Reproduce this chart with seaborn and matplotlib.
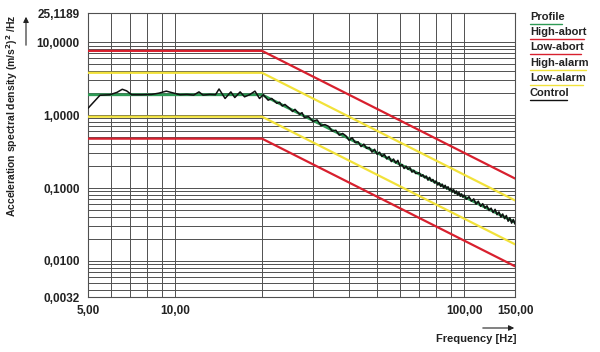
import numpy as np
import pandas as pd
import matplotlib
matplotlib.use('Agg')
import matplotlib.pyplot as plt
import seaborn as sns

# breakpoints of the reference profile and the limit lines
brk_freq = [5.0, 20.0, 150.0]
profile = [1.9, 1.9, 0.0338]
high_abort = [7.6, 7.6, 0.135]
low_abort = [0.475, 0.475, 0.00845]
high_alarm = [3.8, 3.8, 0.0676]
low_alarm = [0.95, 0.95, 0.0169]

ctrl_freq = [5.0, 5.5, 5.95, 6.3, 6.57, 6.8, 7.08, 7.67, 8.3, 8.8, 9.33, 9.8, 10.4, 11.0, 11.6,
             12.1, 12.5, 13.2, 13.8, 14.2, 14.9, 15.6, 16.1, 16.8, 17.4, 18.1, 18.9, 19.6, 20.2,
             21.0, 21.6, 22.5, 23, 23.5, 24, 25, 25.5, 26, 27, 27.5, 28, 29, 30, 31, 32, 33, 34,
             35, 36, 37, 38, 39, 40, 41, 42, 43, 44, 45, 46, 47, 48, 49, 50, 51, 52, 53, 54, 55,
             56, 57, 58, 59, 60, 61, 62, 63, 64, 65, 66, 67, 68, 70, 71, 72, 73, 74, 75, 76, 77,
             78, 79, 80, 81, 82, 83, 84, 85, 86, 87, 88, 89, 90, 91, 92, 93, 94, 95, 96, 97, 98,
             99, 100, 102, 104, 106, 108, 110, 112, 114, 116, 118, 120, 122, 124, 126, 128, 130,
             132, 134, 136, 138, 140, 142, 144, 146, 148, 150]
ctrl_psd = [1.24, 1.87, 1.9, 2.05, 2.26, 2.15, 1.9, 1.9, 1.92, 2.0, 2.13, 2.02, 1.9, 1.92, 1.88,
            2.08, 1.88, 1.92, 1.9, 2.28, 1.69, 2.08, 1.74, 2.08, 1.78, 1.9, 2.13, 1.69, 1.9,
            1.6, 1.69, 1.45, 1.50, 1.33, 1.40, 1.22, 1.12, 1.20, 1.02, 1.08, 0.93, 0.95, 0.82,
            0.86, 0.72, 0.74, 0.70, 0.60, 0.62, 0.53, 0.56, 0.52, 0.45, 0.49, 0.42, 0.43, 0.37,
            0.40, 0.35, 0.36, 0.31, 0.34, 0.29, 0.31, 0.27, 0.29, 0.25, 0.27, 0.23, 0.25, 0.22,
            0.24, 0.20, 0.21, 0.185, 0.20, 0.18, 0.19, 0.165, 0.175, 0.158, 0.162, 0.145, 0.152,
            0.138, 0.146, 0.128, 0.140, 0.124, 0.131, 0.117, 0.125, 0.110, 0.118, 0.105, 0.113,
            0.100, 0.109, 0.097, 0.104, 0.093, 0.099, 0.088, 0.095, 0.084, 0.091, 0.080, 0.087,
            0.077, 0.083, 0.075, 0.080, 0.070, 0.076, 0.066, 0.071, 0.060, 0.066, 0.056, 0.061,
            0.053, 0.057, 0.049, 0.053, 0.046, 0.051, 0.043, 0.047, 0.040, 0.044, 0.038, 0.042,
            0.035, 0.039, 0.033, 0.037, 0.032]

y_ticks = [0.0032, 0.01, 0.1, 1.0, 10.0, 25.1189]
y_labels = ['0,0032', '0,0100', '0,1000', '1,0000', '10,0000', '25,1189']
x_ticks = [5, 10, 100, 150]
x_labels = ['5,00', '10,00', '100,00', '150,00']

legend_names = ['Profile', 'High-abort', 'Low-abort', 'High-alarm', 'Low-alarm', 'Control']
GREEN, RED, YELLOW = '#2e9a55', '#d8202e', '#f2e23a'
legend_colors = [GREEN, RED, RED, YELLOW, YELLOW, '#111111']

sns.set_style('white')
plt.rcParams['font.family'] = ['Liberation Sans', 'DejaVu Sans']
plt.rcParams['font.weight'] = 'bold'

fig = plt.figure(figsize=(6, 3.52), dpi=100)
ax = fig.add_axes([88 / 600, 1 - 297 / 352, 427 / 600, 284 / 352])
ax.set_xscale('log')
ax.set_yscale('log')

# grid: decades plus 2..9 multiples
yminor = [m * 10.0 ** e for e in range(-3, 1) for m in range(2, 10)]
yminor = [v for v in yminor if 0.0032 < v < 10]
xminor = [6, 7, 8, 9, 20, 30, 40, 50, 60, 70, 80, 90]
for v in yminor + [0.01, 0.1, 1.0, 10.0]:
    ax.axhline(v, color='#505050', lw=0.7, zorder=1)
for v in xminor + [10, 100]:
    ax.axvline(v, color='#505050', lw=0.7, zorder=1)

lim = pd.DataFrame({'f': brk_freq, 'High-abort': high_abort, 'Low-abort': low_abort,
                    'High-alarm': high_alarm, 'Low-alarm': low_alarm})
for name, col in [('High-alarm', YELLOW), ('Low-alarm', YELLOW),
                  ('High-abort', RED), ('Low-abort', RED)]:
    sns.lineplot(x=lim['f'], y=lim[name], color=col, lw=1.6, ax=ax, zorder=3)
sns.lineplot(x=brk_freq, y=profile, color=GREEN, lw=2.0, ax=ax, zorder=4)
sns.lineplot(x=ctrl_freq, y=ctrl_psd, color='#111111', lw=1.1, ax=ax, zorder=5, sort=False)

ax.set_xlim(5, 150)
ax.set_ylim(0.0032, 25.1189)
ax.set_xticks(x_ticks)
ax.set_xticklabels(x_labels)
ax.set_yticks(y_ticks)
ax.set_yticklabels(y_labels)
ax.minorticks_off()
ax.tick_params(length=4, width=0.8, color='#333333', labelsize=8.5, labelcolor='#222222', pad=2)
for lab in ax.get_xticklabels() + ax.get_yticklabels():
    lab.set_fontweight('bold')
ax.set_xlabel('')
ax.set_ylabel('')
for s in ax.spines.values():
    s.set_color('#505050')
    s.set_linewidth(0.8)

# axis titles with arrows
fig.text(12 / 600, 1 - 116 / 352, 'Acceleration spectral density (m/s$^2$)$^2$ /Hz',
         rotation=90, ha='center', va='center', fontsize=7.5, fontweight='bold', color='#222222')
fig.text(516 / 600, 1 - 339 / 352, 'Frequency [Hz]', ha='right', va='center',
         fontsize=8, fontweight='bold', color='#222222')
fig.add_artist(matplotlib.patches.FancyArrowPatch(
    (26 / 600, 1 - 48 / 352), (26 / 600, 1 - 14 / 352), transform=fig.transFigure,
    arrowstyle='-|>', mutation_scale=8, color='#222222', lw=0.8))
fig.add_artist(matplotlib.patches.FancyArrowPatch(
    (480 / 600, 1 - 328 / 352), (517 / 600, 1 - 328 / 352), transform=fig.transFigure,
    arrowstyle='-|>', mutation_scale=8, color='#222222', lw=0.8))

# legend: text with coloured underline
fig.canvas.draw()
renderer = fig.canvas.get_renderer()
for i, (name, col) in enumerate(zip(legend_names, legend_colors)):
    yc = 17 + i * 15.2
    t = fig.text(530 / 600, 1 - yc / 352, name, ha='left', va='center',
                 fontsize=8, fontweight='bold', color='#222222')
    bb = t.get_window_extent(renderer)
    yl = 1 - (yc + 7) / 352
    fig.add_artist(matplotlib.lines.Line2D([530 / 600, (bb.x1 - 3) / 600], [yl, yl],
                                           transform=fig.transFigure, color=col, lw=1.0))

fig.savefig('out.png', dpi=100)
plt.close(fig)
